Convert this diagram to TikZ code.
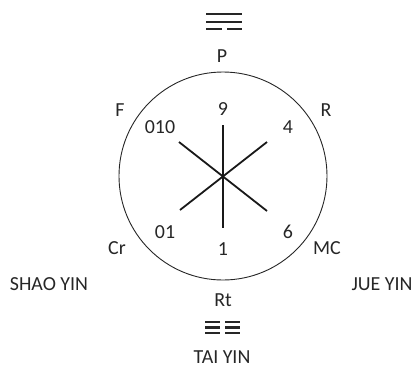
\documentclass[tikz,border=0pt]{standalone}
\usepackage{fontspec}
\setmainfont{Carlito}
\begin{document}
\begin{tikzpicture}[x=1bp,y=-1bp,
  lbl/.style={inner sep=0pt,font=\fontsize{20}{20}\selectfont,text=black!85},
  spoke/.style={line width=1.8bp,black!90},
  bar/.style={line width=2.6bp,black!85}]
\useasboundingbox (0,0) rectangle (416,371);
\node[circle,draw=black!85,line width=0.9bp,minimum size=208bp,inner sep=0pt] (ring) at (223,176) {};
\coordinate (c) at (223,176.5);
\coordinate (n) at (223,125);
\coordinate (s) at (223,228);
\coordinate (nw) at (179,142);
\coordinate (se) at (267,211);
\coordinate (ne) at (267,142);
\coordinate (sw) at (180,210);
\draw[spoke] (n) -- (s);
\draw[spoke] (nw) -- (se);
\draw[spoke] (ne) -- (sw);
% labels
\node[lbl] (P) at (222,56) {P};
\node[lbl] (nine) at (223,109) {9};
\node[lbl] (zot) at (160,127) {010};
\node[lbl] (four) at (288,127) {4};
\node[lbl] (F) at (120,110) {F};
\node[lbl] (R) at (326,110) {R};
\node[lbl] (zo) at (165,232) {01};
\node[lbl] (six) at (288,232) {6};
\node[lbl] (one) at (223,249) {1};
\node[lbl] (Cr) at (117,248) {Cr};
\node[lbl] (MC) at (327,248) {MC};
\node[lbl] (Rt) at (223,300) {Rt};
\node[lbl] (shao) at (49,284) {SHAO YIN};
\node[lbl] (jue) at (382,284) {JUE YIN};
\node[lbl] (tai) at (222,357) {TAI YIN};
% top trigram
\coordinate (t1a) at (206,14); \coordinate (t1b) at (242,14);
\coordinate (t2a) at (206,22); \coordinate (t2b) at (242,22);
\coordinate (t3a) at (206,29); \coordinate (t3b) at (222,29);
\coordinate (t3c) at (227,29); \coordinate (t3d) at (242,29);
\draw[bar] (t1a) -- (t1b);
\draw[bar] (t2a) -- (t2b);
\draw[bar] (t3a) -- (t3b);
\draw[bar] (t3c) -- (t3d);
% bottom trigram
\foreach \yy [count=\k] in {322,327.5,333}{
  \coordinate (bl\k a) at (205,\yy); \coordinate (bl\k b) at (220,\yy);
  \coordinate (br\k a) at (225,\yy); \coordinate (br\k b) at (240,\yy);
  \draw[bar] (bl\k a) -- (bl\k b);
  \draw[bar] (br\k a) -- (br\k b);
}
\end{tikzpicture}
\end{document}
